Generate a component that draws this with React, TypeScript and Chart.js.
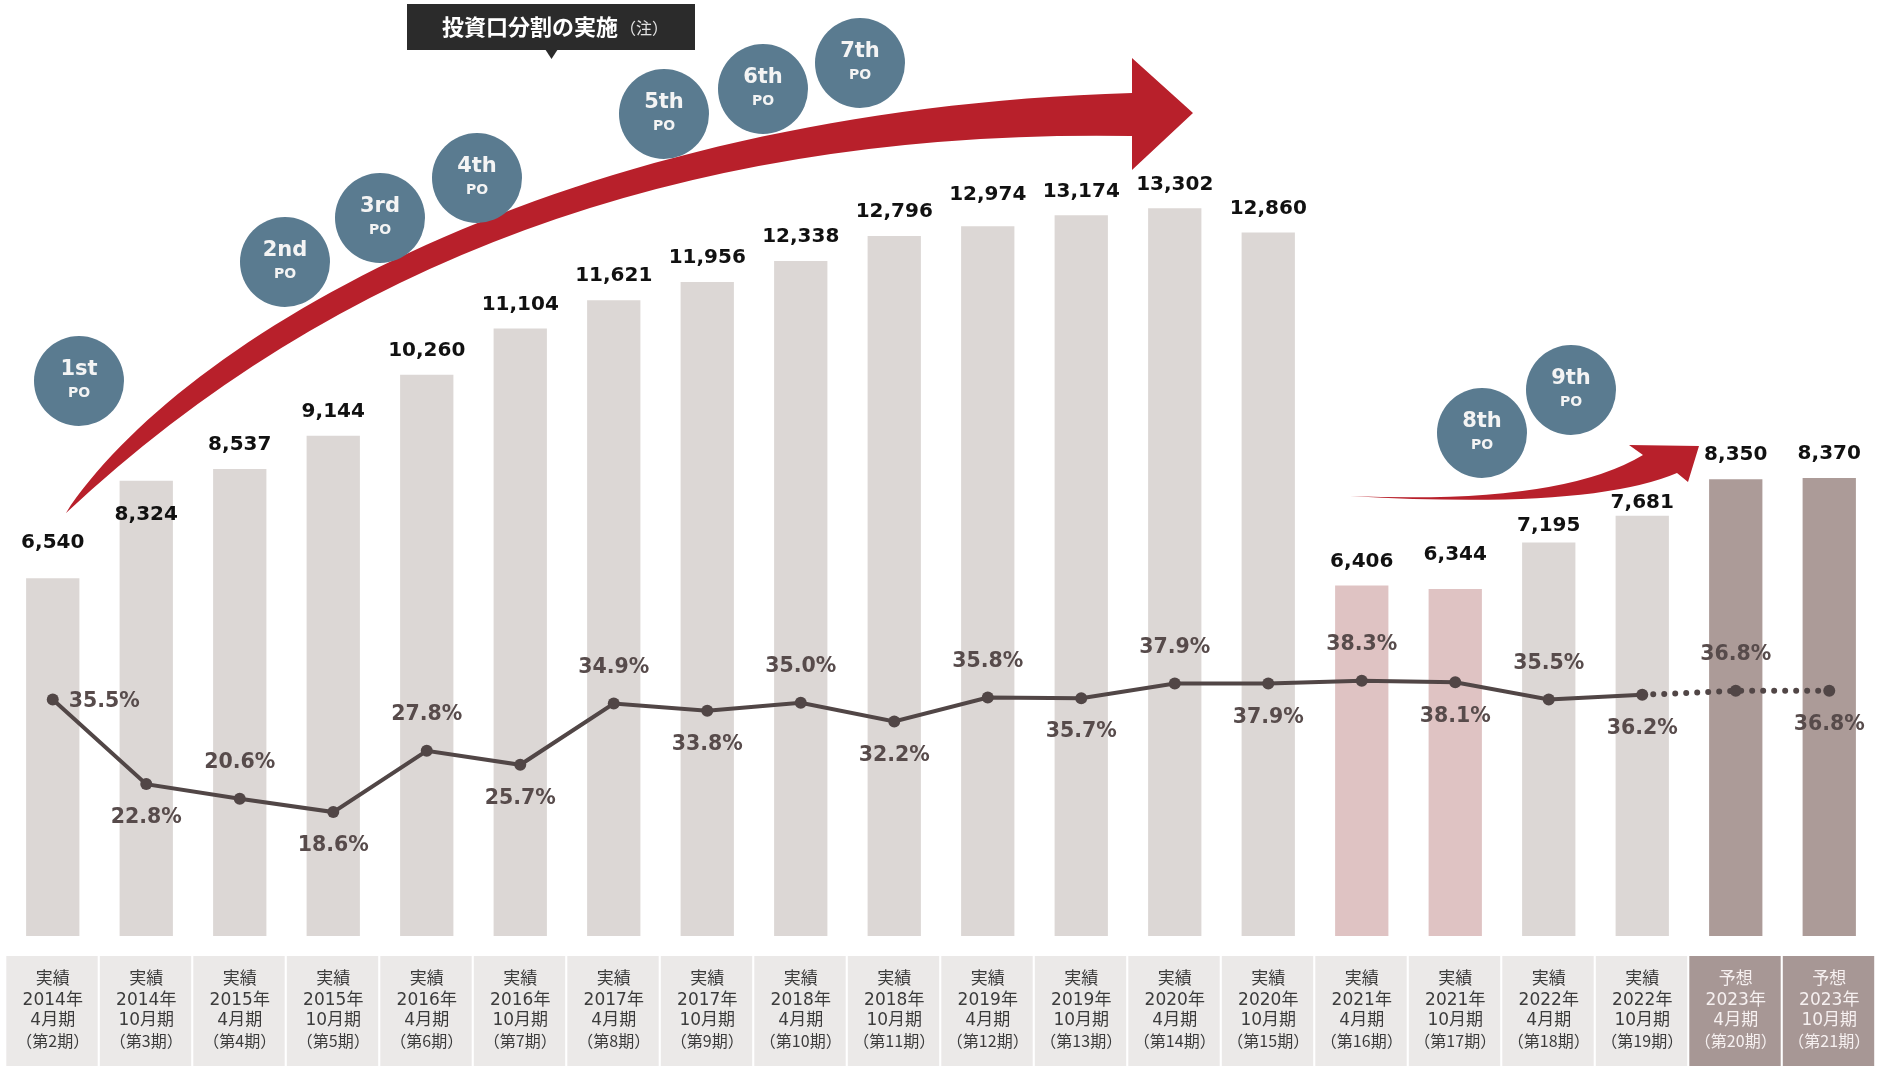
import React, { useEffect, useRef } from 'react';
import { Chart, registerables } from 'chart.js';

Chart.register(...registerables);

// ---------- data ----------
const statusLabels = ['実績','実績','実績','実績','実績','実績','実績','実績','実績','実績','実績','実績','実績','実績','実績','実績','実績','実績','予想','予想'];
const fiscalYears = ['2014年','2014年','2015年','2015年','2016年','2016年','2017年','2017年','2018年','2018年','2019年','2019年','2020年','2020年','2021年','2021年','2022年','2022年','2023年','2023年'];
const fiscalMonths = ['4月期','10月期','4月期','10月期','4月期','10月期','4月期','10月期','4月期','10月期','4月期','10月期','4月期','10月期','4月期','10月期','4月期','10月期','4月期','10月期'];
const periodNames = ['（第2期）','（第3期）','（第4期）','（第5期）','（第6期）','（第7期）','（第8期）','（第9期）','（第10期）','（第11期）','（第12期）','（第13期）','（第14期）','（第15期）','（第16期）','（第17期）','（第18期）','（第19期）','（第20期）','（第21期）'];
const distributionValues = [6540, 8324, 8537, 9144, 10260, 11104, 11621, 11956, 12338, 12796, 12974, 13174, 13302, 12860, 6406, 6344, 7195, 7681, 8350, 8370];
const ratioValues = [35.5, 22.8, 20.6, 18.6, 27.8, 25.7, 34.9, 33.8, 35.0, 32.2, 35.8, 35.7, 37.9, 37.9, 38.3, 38.1, 35.5, 36.2, 36.8, 36.8];
const highlightedPeriods = ['（第16期）', '（第17期）'];
const poNames = ['1st', '2nd', '3rd', '4th', '5th', '6th', '7th', '8th', '9th'];
const calloutTitle = '投資口分割の実施';
const calloutNote = '（注）';

// ---------- styles / annotation layout ----------
const COLORS = {
  bar: '#dcd7d5',
  barHighlight: '#dfc3c3',
  barForecast: '#ac9b98',
  line: '#514646',
  pctText: '#574b4b',
  valueText: '#111111',
  cell: '#ebe9e8',
  cellForecast: '#a79795',
  cellText: '#3c3c3c',
  cellTextForecast: '#f6f0f0',
  circle: '#5a7b90',
  arrow: '#b8202b',
  callout: '#2b2b2b',
};
const poCirclePos = [
  [79, 381], [285, 262], [380, 218], [477, 178], [664, 114], [763, 89], [860, 63], [1482, 433], [1571, 390],
];
const valueLabelNudge: Record<number, number> = { 0: -11, 1: 58, 10: -7, 15: -10, 16: 7, 17: 11 };
const cellLineY = [980, 1000.5, 1021, 1041];

const fmt = (v: number) => v.toLocaleString('en-US');

const decorPlugin = {
  id: 'decor',
  afterDatasetsDraw(chart: any) {
    const ctx = chart.ctx as CanvasRenderingContext2D;
    const xs = chart.scales.x;
    const n = distributionValues.length;
    const half = xs.width / n / 2;

    ctx.save();
    // ---- bottom category cells ----
    for (let i = 0; i < n; i++) {
      const cx = xs.getPixelForValue(i);
      const forecast = statusLabels[i] === '予想';
      ctx.fillStyle = forecast ? COLORS.cellForecast : COLORS.cell;
      ctx.fillRect(cx - half + 0.3, 956, 2 * half - 2.1, 110);
      ctx.fillStyle = forecast ? COLORS.cellTextForecast : COLORS.cellText;
      ctx.textAlign = 'center';
      ctx.textBaseline = 'middle';
      const lines = [statusLabels[i], fiscalYears[i], fiscalMonths[i], periodNames[i]];
      lines.forEach((t, k) => {
        ctx.font = k === 3 ? '16px "Noto Sans CJK JP", sans-serif' : '17px "DejaVu Sans", "Noto Sans CJK JP", sans-serif';
        ctx.fillText(t, cx, cellLineY[k]);
      });
    }

    // ---- big arrow ----
    ctx.fillStyle = COLORS.arrow;
    ctx.beginPath();
    ctx.moveTo(66, 513);
    ctx.bezierCurveTo(180, 340, 560, 110, 1132, 93);
    ctx.lineTo(1132, 58);
    ctx.lineTo(1193, 113);
    ctx.lineTo(1132, 170);
    ctx.lineTo(1132, 136);
    ctx.quadraticCurveTo(480, 125, 66, 513);
    ctx.closePath();
    ctx.fill();

    // ---- small arrow ----
    ctx.beginPath();
    ctx.moveTo(1350, 496);
    ctx.quadraticCurveTo(1560, 505, 1643, 455);
    ctx.lineTo(1629, 445);
    ctx.lineTo(1699, 446);
    ctx.lineTo(1688, 482);
    ctx.lineTo(1677, 473);
    ctx.quadraticCurveTo(1590, 510, 1350, 496);
    ctx.closePath();
    ctx.fill();

    // ---- PO circles ----
    poNames.forEach((name, k) => {
      const [px, py] = poCirclePos[k];
      ctx.fillStyle = COLORS.circle;
      ctx.beginPath();
      ctx.arc(px, py, 45, 0, Math.PI * 2);
      ctx.fill();
      ctx.fillStyle = '#f4f4f4';
      ctx.textAlign = 'center';
      ctx.textBaseline = 'middle';
      ctx.font = 'bold 21px "DejaVu Sans", sans-serif';
      ctx.fillText(name, px, py - 11);
      ctx.font = 'bold 14px "DejaVu Sans", sans-serif';
      ctx.fillText('PO', px, py + 12);
    });

    // ---- callout ----
    ctx.fillStyle = COLORS.callout;
    ctx.fillRect(407, 4, 288, 46);
    ctx.beginPath();
    ctx.moveTo(545, 49);
    ctx.lineTo(558, 49);
    ctx.lineTo(551.5, 59);
    ctx.closePath();
    ctx.fill();
    ctx.fillStyle = '#ffffff';
    ctx.textAlign = 'left';
    ctx.textBaseline = 'middle';
    ctx.font = 'bold 22px "Noto Sans CJK JP", sans-serif';
    ctx.fillText(calloutTitle, 442, 27);
    const tw = ctx.measureText(calloutTitle).width;
    ctx.fillStyle = '#e2e2e2';
    ctx.font = '16px "Noto Sans CJK JP", sans-serif';
    ctx.fillText(calloutNote, 442 + tw + 2, 28);

    // ---- value labels ----
    const barMeta = chart.getDatasetMeta(1);
    ctx.fillStyle = COLORS.valueText;
    ctx.font = 'bold 20px "DejaVu Sans", sans-serif';
    ctx.textAlign = 'center';
    ctx.textBaseline = 'middle';
    barMeta.data.forEach((el: any, i: number) => {
      const nudge = valueLabelNudge[i] || 0;
      ctx.fillText(fmt(distributionValues[i]), el.x, el.y - 24 + nudge);
    });

    // ---- ratio labels ----
    const lineMeta = chart.getDatasetMeta(0);
    ctx.fillStyle = COLORS.pctText;
    ctx.font = 'bold 20.5px "DejaVu Sans", sans-serif';
    lineMeta.data.forEach((el: any, i: number) => {
      const t = ratioValues[i].toFixed(1) + '%';
      if (i === 0) {
        ctx.textAlign = 'left';
        ctx.fillText(t, el.x + 16, el.y + 2);
      } else if (i % 2 === 0) {
        ctx.textAlign = 'center';
        ctx.fillText(t, el.x, el.y - 36);
      } else {
        ctx.textAlign = 'center';
        ctx.fillText(t, el.x, el.y + 34);
      }
    });
    ctx.restore();
  },
};

export default function App() {
  const ref = useRef<HTMLCanvasElement>(null);
  useEffect(() => {
    if (!ref.current) return;
    const forecastStart = statusLabels.indexOf('予想');
    const barColors = distributionValues.map((_, i) =>
      statusLabels[i] === '予想'
        ? COLORS.barForecast
        : highlightedPeriods.includes(periodNames[i])
        ? COLORS.barHighlight
        : COLORS.bar
    );
    const chart = new Chart(ref.current, {
      type: 'bar',
      data: {
        labels: periodNames,
        datasets: [
          {
            type: 'line',
            label: '比率',
            data: ratioValues,
            yAxisID: 'y1',
            order: 0,
            borderColor: COLORS.line,
            borderWidth: 4,
            borderCapStyle: 'round',
            pointRadius: 6,
            pointBackgroundColor: COLORS.line,
            pointBorderWidth: 0,
            tension: 0,
            segment: {
              borderDash: (c: any) => (c.p0DataIndex >= forecastStart - 1 ? [0, 11] : undefined),
              borderWidth: (c: any) => (c.p0DataIndex >= forecastStart - 1 ? 6 : undefined),
            },
          } as any,
          {
            type: 'bar',
            label: '分配金',
            data: distributionValues,
            yAxisID: 'y',
            order: 1,
            backgroundColor: barColors,
            barPercentage: 0.57,
            categoryPercentage: 1,
          },
        ],
      },
      options: {
        animation: false,
        responsive: false,
        layout: { padding: { left: 3.8, right: 11, top: 5, bottom: 130 } },
        plugins: { legend: { display: false }, tooltip: { enabled: false } },
        scales: {
          x: { display: false, offset: true },
          y: { display: false, min: 0, max: 17000 },
          y1: { display: false, min: 0, max: 139.6, position: 'right' },
        },
      },
      plugins: [decorPlugin],
    });
    return () => chart.destroy();
  }, []);
  return (
    <div style={{ position: 'fixed', left: 0, top: 0, width: 1887, height: 1066, background: '#ffffff' }}>
      <canvas ref={ref} width={1887} height={1066} style={{ display: 'block' }} />
    </div>
  );
}
